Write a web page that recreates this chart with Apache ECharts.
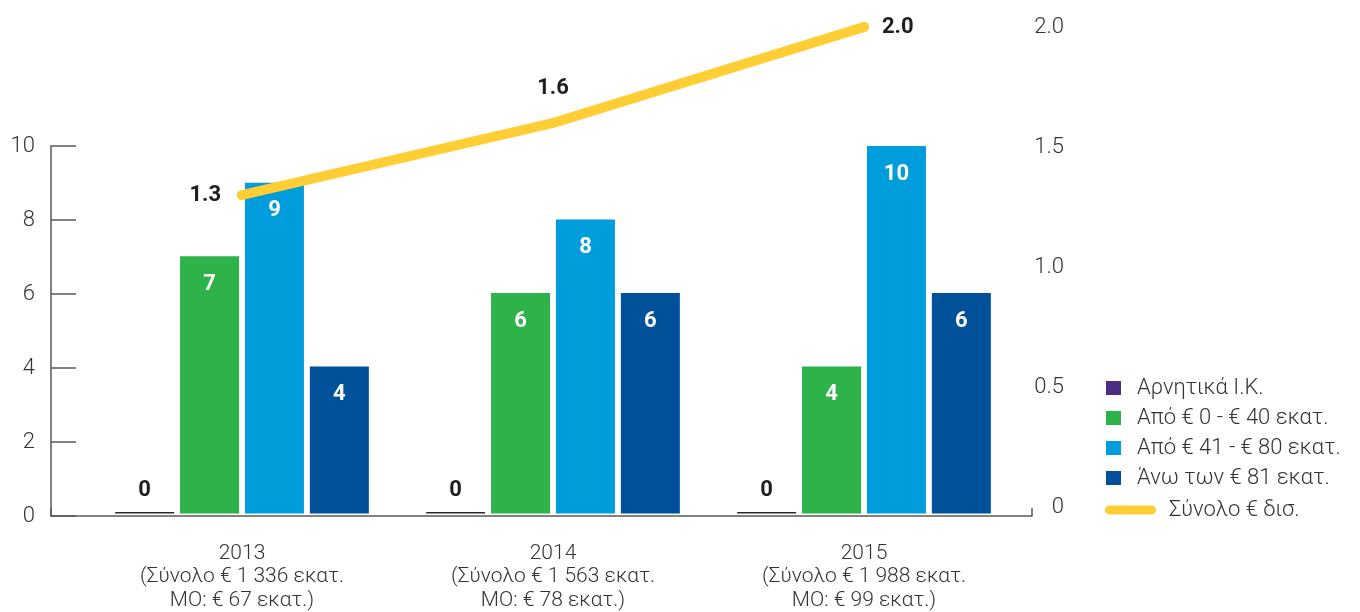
<!DOCTYPE html>
<html>
<head>
<meta charset="utf-8">
<script src="https://cdn.jsdelivr.net/npm/echarts@6/dist/echarts.min.js"></script>
<style>
  html, body { margin: 0; padding: 0; background: #fff; }
  #chart { width: 1360px; height: 612px; }
</style>
</head>
<body>
<div id="chart"></div>
<script>
// Years and the per-year captions under each group
const years = ['2013', '2014', '2015'];
const totalMn = ['1 336', '1 563', '1 988'];
const averageMn = ['67', '78', '99'];

// Number of deals per size band (left axis)
const negative = [0, 0, 0];
const band0to40 = [7, 6, 4];
const band41to80 = [9, 8, 10];
const above81 = [4, 6, 6];

// Total value in € billions (right axis)
const totalBn = [1.3, 1.6, 2.0];

// Axis ticks
const leftTicks = { min: 0, max: 10, step: 2 };
const rightTicks = { min: 0, max: 2, step: 0.5 };

const seriesNames = [
  'Αρνητικά Ι.Κ.',
  'Από € 0 - € 40 εκατ.',
  'Από € 41 - € 80 εκατ.',
  'Άνω των € 81 εκατ.',
  'Σύνολο € δισ.'
];

const FONT = 'Roboto, "Noto Sans", sans-serif';
const AXIS_GREY = '#5a5a5a';
const TEXT = '#333333';
const colors = {
  negative: '#4b2e83',
  band0to40: '#2db34a',
  band41to80: '#009ddc',
  above81: '#00519a',
  total: '#ffcd34'
};

const xLabels = years.map((y, i) =>
  y + '\n(Σύνολο € ' + totalMn[i] + ' εκατ.\nΜΟ: € ' + averageMn[i] + ' εκατ.)');

const insideLabel = {
  show: true,
  position: 'insideTop',
  distance: 17,
  color: '#ffffff',
  fontFamily: FONT,
  fontWeight: 'bold',
  fontSize: 22
};

function barSeries(name, data, color) {
  return {
    name: name,
    type: 'bar',
    xAxisIndex: 1,
    yAxisIndex: 1,
    barWidth: 59,
    barGap: '10%',
    itemStyle: { color: color },
    label: insideLabel,
    data: data
  };
}

// Where each total label sits relative to its point
const totalLabelPlacement = [
  { position: 'left', distance: 16 },
  { position: 'top', distance: 19 },
  { position: 'right', distance: 13 }
];

const legendText = {
  fontFamily: FONT,
  fontWeight: 300,
  fontSize: 22,
  lineHeight: 20,
  color: TEXT
};

const chart = echarts.init(document.getElementById('chart'));

chart.setOption({
  animation: false,
  textStyle: { fontFamily: FONT },
  grid: [
    // frame carrying the visible left axis and baseline
    { left: 51, top: 146, width: 981, height: 370 },
    // bars
    { left: 86.5, top: 146, width: 933, height: 370 },
    // total line and right axis
    { left: 86.5, top: 27, width: 933, height: 480 }
  ],
  legend: [
    {
      data: seriesNames.slice(0, 4),
      orient: 'vertical',
      left: 1101,
      top: 372,
      itemWidth: 15,
      itemHeight: 14,
      itemGap: 8,
      icon: 'rect',
      selectedMode: false,
      textStyle: Object.assign({ padding: [0, 0, 0, 11] }, legendText)
    },
    {
      data: [seriesNames[4]],
      orient: 'vertical',
      left: 1100,
      top: 494,
      itemWidth: 51,
      itemHeight: 9,
      icon: 'path://M4.5,0 L46.5,0 A4.5,4.5 0 0 1 46.5,9 L4.5,9 A4.5,4.5 0 0 1 4.5,0 Z',
      selectedMode: false,
      textStyle: Object.assign({ padding: [0, 0, 0, 8] }, legendText)
    }
  ],
  xAxis: [
    {
      gridIndex: 0,
      type: 'value',
      min: 0,
      max: 1,
      interval: 1,
      axisLine: { show: true, lineStyle: { color: AXIS_GREY, width: 1.5 } },
      axisTick: { show: true, inside: true, length: 8, lineStyle: { color: AXIS_GREY, width: 1.5 } },
      axisLabel: { show: false },
      splitLine: { show: false }
    },
    {
      gridIndex: 1,
      type: 'category',
      data: xLabels,
      axisLine: { show: false },
      axisTick: { show: false },
      axisLabel: {
        margin: 28,
        fontFamily: FONT,
        fontWeight: 300,
        fontSize: 21,
        lineHeight: 23.5,
        color: TEXT,
        align: 'center'
      }
    },
    {
      gridIndex: 2,
      type: 'category',
      data: years,
      show: false
    }
  ],
  yAxis: [
    {
      gridIndex: 0,
      type: 'value',
      min: leftTicks.min,
      max: leftTicks.max,
      interval: leftTicks.step,
      axisLine: { show: true, lineStyle: { color: AXIS_GREY, width: 1.5 } },
      axisTick: { show: true, inside: true, length: 25, lineStyle: { color: AXIS_GREY, width: 1.5 } },
      axisLabel: { margin: 16, fontFamily: FONT, fontWeight: 300, fontSize: 22, color: TEXT },
      splitLine: { show: false }
    },
    {
      gridIndex: 1,
      type: 'value',
      min: leftTicks.min,
      max: leftTicks.max,
      show: false
    },
    {
      gridIndex: 2,
      type: 'value',
      position: 'right',
      offset: 12.5,
      min: rightTicks.min,
      max: rightTicks.max,
      interval: rightTicks.step,
      axisLine: { show: false },
      axisTick: { show: false },
      splitLine: { show: false },
      axisLabel: {
        margin: 32,
        align: 'right',
        fontFamily: FONT,
        fontWeight: 300,
        fontSize: 22,
        color: TEXT,
        formatter: v => (v === 0 ? '0' : v.toFixed(1))
      }
    }
  ],
  series: [
    {
      name: seriesNames[0],
      type: 'bar',
      xAxisIndex: 1,
      yAxisIndex: 1,
      barWidth: 59,
      barGap: '10%',
      barMinHeight: 1.5,
      itemStyle: { color: colors.negative },
      label: {
        show: true,
        position: 'top',
        distance: 11,
        color: '#1e1e1e',
        fontFamily: FONT,
        fontWeight: 'bold',
        fontSize: 22
      },
      data: negative.map(v => ({ value: v, itemStyle: { color: '#2a2a2a' } }))
    },
    barSeries(seriesNames[1], band0to40, colors.band0to40),
    barSeries(seriesNames[2], band41to80, colors.band41to80),
    barSeries(seriesNames[3], above81, colors.above81),
    {
      name: seriesNames[4],
      type: 'line',
      xAxisIndex: 2,
      yAxisIndex: 2,
      symbol: 'circle',
      symbolSize: 10,
      itemStyle: { color: colors.total },
      lineStyle: { color: colors.total, width: 10, cap: 'round', join: 'round' },
      label: {
        show: true,
        color: '#1e1e1e',
        fontFamily: FONT,
        fontWeight: 'bold',
        fontSize: 22,
        formatter: p => p.value.toFixed(1)
      },
      z: 5,
      data: totalBn.map((v, i) => ({ value: v, label: totalLabelPlacement[i] }))
    }
  ]
});
</script>
</body>
</html>
